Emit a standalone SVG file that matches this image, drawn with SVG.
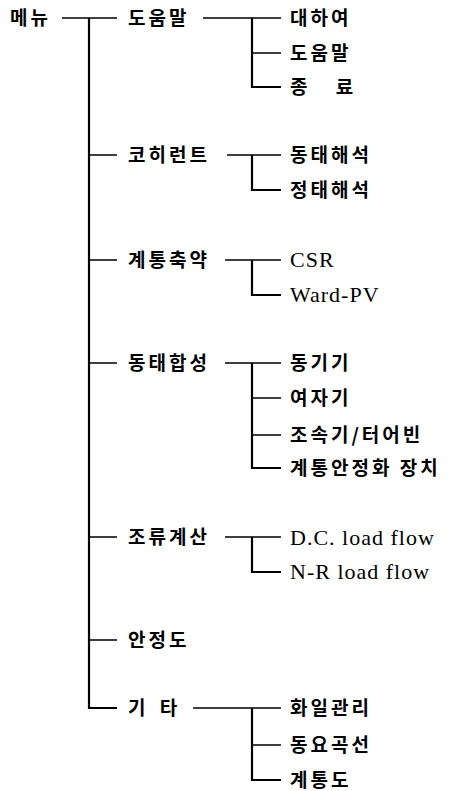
<svg xmlns="http://www.w3.org/2000/svg" width="450" height="791" viewBox="0 0 450 791">
<style>
.k{font-family:"Noto Sans CJK KR","Noto Sans",sans-serif;font-weight:700;font-size:19px;letter-spacing:3px;fill:#000}
.e{font-family:"Liberation Serif","Times New Roman",serif;font-size:22px;letter-spacing:1px;fill:#000}
.ln{stroke:#000;stroke-width:1.6;fill:none}
.tr{stroke:#000;stroke-width:2.2;fill:none}
</style>
<rect width="450" height="791" fill="#fff"/>
<g id="connectors">
<path class="ln" d="M62 18H117"/>
<path class="tr" d="M89 18V708H117"/>
<path class="ln" d="M89 155H117M89 260H117M89 363H117M89 537H117M89 640H117"/>
<path class="ln" d="M203 18H281M227 155H281M225 260H281M225 363H281M225 537H281M193 708H281"/>
<path class="tr" d="M252 18V87H281M252 155V190H281M252 260V295H281M252 363V468H281M252 537V572H281M252 708V780H281"/>
<path class="ln" d="M252 53H281M252 398H281M252 435H281M252 745H281"/>
</g>
<g id="menu"><text class="k" x="10" y="25">메뉴</text></g>
<g id="help"><text class="k" x="128" y="25">도움말</text></g>
<g id="help-about"><text class="k" x="290" y="25">대하여</text></g>
<g id="help-help"><text class="k" x="290" y="60">도움말</text></g>
<g id="help-exit"><text class="k" x="290" y="94" word-spacing="18">종 료</text></g>
<g id="coherent"><text class="k" x="128" y="162">코히런트</text></g>
<g id="dyn-analysis"><text class="k" x="290" y="162">동태해석</text></g>
<g id="static-analysis"><text class="k" x="290" y="197">정태해석</text></g>
<g id="reduction"><text class="k" x="128" y="267">계통축약</text></g>
<g id="csr"><text class="e" x="290" y="267">CSR</text></g>
<g id="ward"><text class="e" x="290" y="302">Ward-PV</text></g>
<g id="dyn-synth"><text class="k" x="128" y="370">동태합성</text></g>
<g id="sync"><text class="k" x="290" y="370">동기기</text></g>
<g id="exciter"><text class="k" x="290" y="405">여자기</text></g>
<g id="governor"><text class="k" x="290" y="442">조속기/터어빈</text></g>
<g id="pss"><text class="k" x="290" y="475">계통안정화 장치</text></g>
<g id="loadflow"><text class="k" x="128" y="544">조류계산</text></g>
<g id="dc"><text class="e" x="290" y="545">D.C. load flow</text></g>
<g id="nr"><text class="e" x="290" y="579">N-R load flow</text></g>
<g id="stability"><text class="k" x="128" y="647">안정도</text></g>
<g id="etc"><text class="k" x="128" y="715" word-spacing="4">기 타</text></g>
<g id="file"><text class="k" x="290" y="715">화일관리</text></g>
<g id="swing"><text class="k" x="290" y="752">동요곡선</text></g>
<g id="diagram"><text class="k" x="290" y="787">계통도</text></g>
</svg>
